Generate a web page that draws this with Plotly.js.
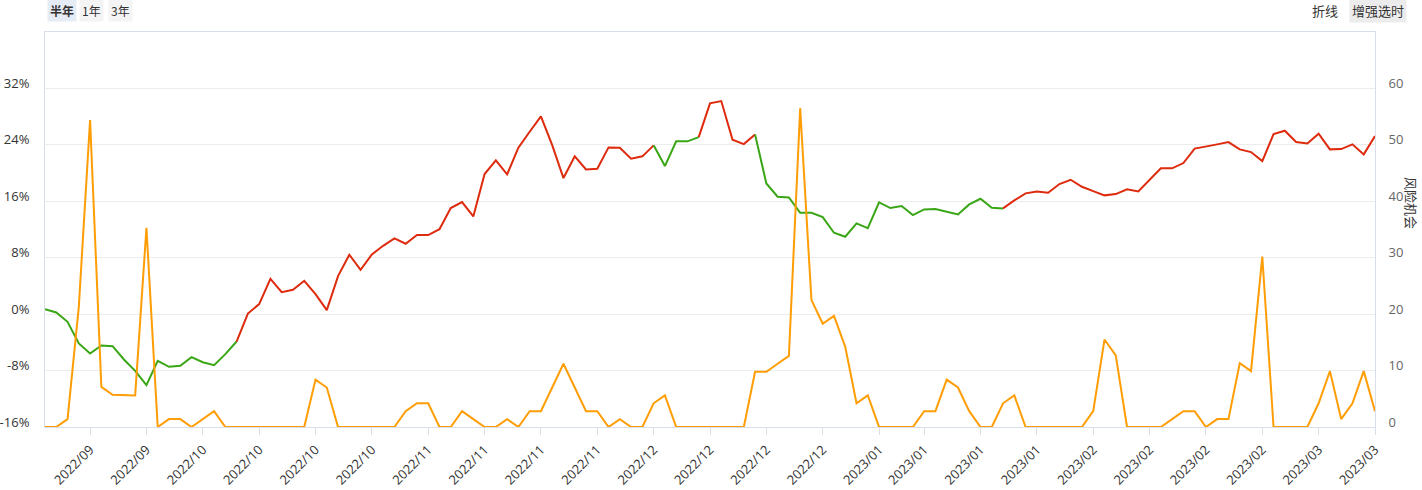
<!DOCTYPE html>
<html>
<head>
<meta charset="utf-8">
<script src="https://cdn.plot.ly/plotly-3.0.1.min.js"></script>
<style>
html,body{margin:0;padding:0;background:#fff;}
#chart{width:1422px;height:490px;}
</style>
</head>
<body>
<div id="chart"></div>
<script>
// ---- data ----
// cumulative return of the enhanced-timing strategy (%), one value per trading day
const strategyReturn = [
  0.71, 0.24, -1.09, -4.16, -5.58, -4.45, -4.54, -6.43, -8.04, -10.07,
  -6.62, -7.47, -7.33, -6.10, -6.81, -7.23, -5.67, -3.88, 0.09, 1.42,
  5.01, 3.12, 3.45, 4.73, 2.84, 0.57, 5.39, 8.42, 6.29, 8.46,
  9.69, 10.73, 9.98, 11.21, 11.21, 12.04, 15.04, 15.89, 13.85, 19.86,
  21.80, 19.81, 23.60, 25.86, 28.04, 23.97, 19.29, 22.37, 20.52, 20.61,
  23.64, 23.60, 22.03, 22.37, 23.93, 20.99, 24.50, 24.50, 25.10, 29.88,
  30.21, 24.73, 24.11, 25.48, 18.53, 16.64, 16.55, 14.37, 14.37, 13.75,
  11.54, 10.97, 12.86, 12.20, 15.84, 15.04, 15.32, 14.04, 14.85, 14.89,
  14.47, 14.14, 15.56, 16.36, 15.08, 14.99, 16.13, 17.12, 17.40, 17.21,
  18.44, 19.05, 18.06, 17.45, 16.84, 17.02, 17.69, 17.40, 19.05, 20.67,
  20.67, 21.42, 23.47, 23.74, 24.07, 24.40, 23.36, 22.98, 21.70, 25.53,
  26.00, 24.40, 24.20, 25.58, 23.36, 23.40, 24.07, 22.65, 25.25
];
// 风险机会 indicator (right axis)
const riskOpportunity = [
  0, 0, 1.4, 21.3, 54.4, 7.1, 5.7, 5.6, 5.6, 35.3,
  0, 1.4, 1.4, 0, 1.4, 2.8, 0, 0, 0, 0,
  0, 0, 0, 0, 8.4, 7.0, 0, 0, 0, 0,
  0, 0, 2.8, 4.2, 4.2, 0, 0, 2.8, 1.4, 0,
  0, 1.4, 0, 2.8, 2.8, 7.0, 11.2, 7.0, 2.8, 2.8,
  0, 1.4, 0, 0, 4.2, 5.6, 0, 0, 0, 0,
  0, 0, 0, 9.8, 9.8, 11.2, 12.6, 56.5, 22.5, 18.3,
  19.7, 14.2, 4.2, 5.6, 0, 0, 0, 0, 2.8, 2.8,
  8.4, 7.0, 2.8, 0, 0, 4.2, 5.6, 0, 0, 0,
  0, 0, 0, 2.8, 15.5, 12.7, 0, 0, 0, 0,
  1.4, 2.8, 2.8, 0, 1.4, 1.4, 11.3, 9.9, 30.2, 0,
  0, 0, 0, 4.2, 9.9, 1.4, 4.2, 9.9, 2.8
];
// timing signal as runs of segments: G = out (green), R = in (red)
const signalRuns = [['G', 17], ['R', 37], ['G', 4], ['R', 5], ['G', 22], ['R', 33]];
// x tick positions (trading-day index) and labels
const tickIndex = [4, 9, 14, 19, 24, 29, 34, 39, 44, 49, 54, 59, 64, 69, 74, 78, 83, 88, 93, 98, 103, 108, 113, 118];
const tickLabels = ['2022/09','2022/09','2022/10','2022/10','2022/10','2022/10','2022/11','2022/11','2022/11','2022/11',
  '2022/12','2022/12','2022/12','2022/12','2023/01','2023/01','2023/01','2023/01','2023/02','2023/02',
  '2023/02','2023/02','2023/03','2023/03'];
const leftTicks = [-16, -8, 0, 8, 16, 24, 32];
const rightTicks = [0, 10, 20, 30, 40, 50, 60];

// ---- build chart ----
const N = strategyReturn.length;
const xIdx = strategyReturn.map((_, i) => i);
const colors = { G: '#3aa616', R: '#de2a0d' };
const FONT = '"Noto Sans CJK SC", "Noto Sans", sans-serif';
const NUMFONT = '"Open Sans", "Noto Sans", sans-serif';

const traces = [];
traces.push({
  x: xIdx, y: riskOpportunity, yaxis: 'y2', type: 'scatter', mode: 'lines',
  line: { color: '#ff9d05', width: 2 }, hoverinfo: 'skip', showlegend: false
});
let start = 0;
signalRuns.forEach(([state, len]) => {
  const end = start + len;
  const ys = strategyReturn.map((v, i) => (i >= start && i <= end) ? v : null);
  traces.push({
    x: xIdx, y: ys, type: 'scatter', mode: 'lines', connectgaps: false,
    line: { color: colors[state], width: 2 }, hoverinfo: 'skip', showlegend: false
  });
  start = end;
});

const L = 45, R = 1375, T = 32, B = 427;
const px = x => (x - L) / (R - L);
const py = y => (B - y) / (B - T);

const btn = (text, x, bg, bold) => ({
  text: bold ? '<b>' + text + '</b>' : text, xref: 'paper', yref: 'paper', x: px(x), y: py(11),
  xanchor: 'center', yanchor: 'middle', showarrow: false,
  font: { family: FONT, size: 12, color: '#333' }, bgcolor: bg, borderpad: 2
});

const layout = {
  width: 1422, height: 490,
  margin: { l: L, r: 1422 - R, t: T, b: 490 - B, pad: 0 },
  paper_bgcolor: '#fff', plot_bgcolor: '#fff',
  font: { family: FONT, size: 13, color: '#333' },
  showlegend: false,
  xaxis: {
    range: [0, N - 1], tickvals: tickIndex, ticktext: tickLabels, tickangle: -45,
    ticks: 'outside', ticklen: 7, tickcolor: '#d9dfea', tickwidth: 1,
    showline: true, linecolor: '#d9dfea', linewidth: 1, mirror: true,
    showgrid: false, zeroline: false, ticklabelstandoff: 2,
    tickfont: { family: NUMFONT, size: 13, color: '#333' }, fixedrange: true
  },
  yaxis: {
    range: [-16, 40], tickvals: leftTicks, ticktext: leftTicks.map(v => (v < 0 ? '-' + (-v) : v) + '%'),
    showgrid: true, gridcolor: '#ececec', gridwidth: 1,
    showline: true, linecolor: '#d9dfea', zeroline: false,
    ticks: '', ticklabelstandoff: 12, ticklabelshift: -5,
    tickfont: { family: NUMFONT, size: 13, color: '#333' }, fixedrange: true
  },
  yaxis2: {
    range: [0, 70], tickvals: rightTicks, overlaying: 'y', side: 'right',
    showgrid: false, showline: true, linecolor: '#d9dfea', zeroline: false,
    ticks: '', ticklabelstandoff: 10, ticklabelshift: -5,
    tickfont: { family: NUMFONT, size: 13, color: '#666' }, fixedrange: true
  },
  annotations: [
    btn('半年', 62, '#e6ecf6', true),
    btn('1年', 91, '#f4f4f4', false),
    btn('3年', 120, '#f4f4f4', false),
    {
      text: '折线', xref: 'paper', yref: 'paper', x: px(1325), y: py(11), xanchor: 'center', yanchor: 'middle',
      showarrow: false, font: { family: FONT, size: 13, color: '#333' }
    },
    {
      text: '增强选时', xref: 'paper', yref: 'paper', x: px(1378), y: py(11), xanchor: 'center', yanchor: 'middle',
      showarrow: false, font: { family: FONT, size: 13, color: '#333' }, bgcolor: '#ececec', borderpad: 2
    },
    {
      text: '风险机会', xref: 'paper', yref: 'paper', x: px(1412), y: py(203), xanchor: 'center', yanchor: 'middle',
      textangle: 90, showarrow: false, font: { family: FONT, size: 13, color: '#333' }
    }
  ]
};

Plotly.newPlot('chart', traces, layout, { staticPlot: true, displayModeBar: false });
</script>
</body>
</html>
